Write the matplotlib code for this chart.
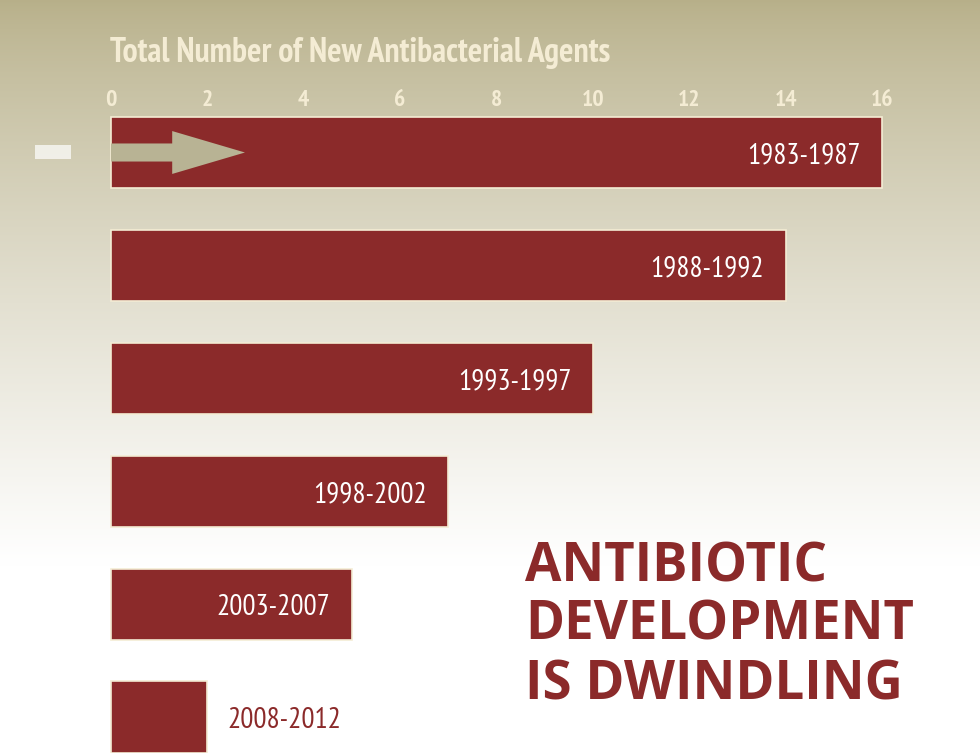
import numpy as np
import matplotlib.pyplot as plt
from matplotlib.patches import Polygon, Rectangle

# data
periods = ["1983-1987", "1988-1992", "1993-1997", "1998-2002", "2003-2007", "2008-2012"]
agents = [16, 14, 10, 7, 5, 2]
ticks = [0, 2, 4, 6, 8, 10, 12, 14, 16]

BAR = "#8b2a2a"
CREAM = "#f4ecd4"
NARROW = ["PT Sans Narrow", "DejaVu Sans"]
HEAD = ["Open Sans", "DejaVu Sans"]

fig = plt.figure(figsize=(9.8, 7.53), dpi=100)
ax = fig.add_axes([0, 0, 1, 1])

# pixel geometry of the reference -> data limits
px_per_unit_x = (882 - 111) / 16
px_per_cat = 112.9
ax.set_xlim(-111 / px_per_unit_x, (980 - 111) / px_per_unit_x)
ax.set_ylim((753 - 152.5) / px_per_cat, -152.5 / px_per_cat)
ax.axis("off")

# background: tan at the top fading to white
grad = np.linspace(0, 1, 256)[:, None]
top = np.array([0.72, 0.69, 0.54])
bottom = np.array([1.0, 1.0, 1.0])
t = np.clip(grad / 0.75, 0, 1) ** 0.8
img = top[None, None, :] * (1 - t[..., None]) + bottom[None, None, :] * t[..., None]
img = np.repeat(img, 2, axis=1)
x0, x1 = ax.get_xlim()
y0, y1 = ax.get_ylim()
ax.imshow(img, extent=(x0, x1, y0, y1), aspect="auto", zorder=0)
ax.set_xlim(x0, x1)
ax.set_ylim(y0, y1)

y = np.arange(len(periods))
ax.barh(y, agents, height=0.63, color=BAR, edgecolor=CREAM, linewidth=1.2, zorder=2)

# labels: inside the bar, or after it when the bar is short
for yi, v, lab in zip(y, agents, periods):
    if v >= 4:
        ax.text(v - 0.45, yi + 0.03, lab, ha="right", va="center", color="white",
                fontsize=21, family=NARROW, zorder=3)
    else:
        ax.text(v + 0.42, yi + 0.03, lab, ha="left", va="center", color=BAR,
                fontsize=21, family=NARROW, zorder=3)

# axis numbers on top
for tk in ticks:
    ax.text(tk, -0.465, str(tk), ha="center", va="center", color=CREAM,
            fontsize=17, fontweight="bold", family=NARROW, zorder=3)
ax.text(-0.03, -0.88, "Total Number of New Antibacterial Agents", ha="left", va="center",
        color=CREAM, fontsize=24.3, fontweight="bold", family=NARROW, zorder=3)

# decorative arrow in the first bar
arrow = Polygon([(0, -0.08), (1.27, -0.08), (1.27, -0.19), (2.78, 0.0),
                 (1.27, 0.19), (1.27, 0.08), (0, 0.08)],
                closed=True, facecolor="#b8b394", edgecolor="none", zorder=3)
ax.add_patch(arrow)
ax.add_patch(Rectangle((-1.58, -0.07), 0.75, 0.13, facecolor="white", alpha=0.7,
                       edgecolor="none", zorder=1))

# headline
for line, base in [("ANTIBIOTIC", 581), ("DEVELOPMENT", 640), ("IS DWINDLING", 700)]:
    fig.text(525 / 980, 1 - base / 753, line, ha="left", va="baseline", color=BAR,
             fontsize=38, fontweight="bold", family=HEAD)

fig.savefig("out.png", dpi=100)
